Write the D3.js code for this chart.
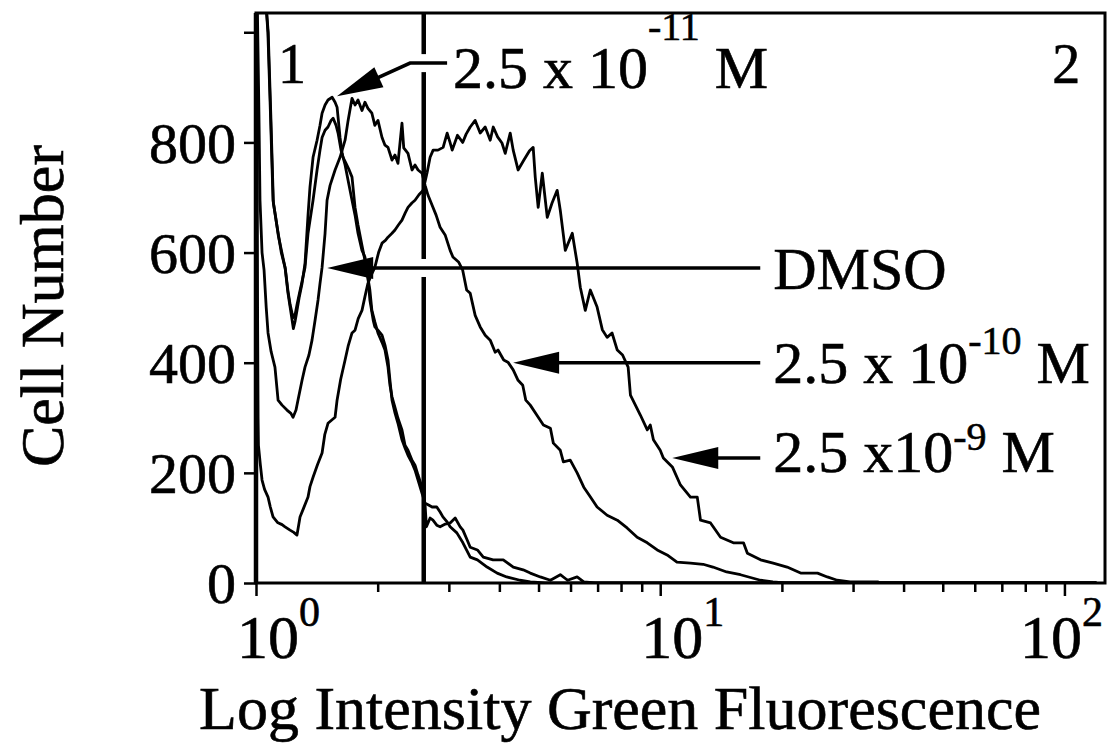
<!DOCTYPE html>
<html>
<head>
<meta charset="utf-8">
<script src="https://cdn.jsdelivr.net/npm/d3@7/dist/d3.min.js"></script>
<style>
  body { margin: 0; background: #fff; }
  svg text { font-family: "Liberation Serif", "Times New Roman", serif; fill: #000; stroke: #000; stroke-width: 0.6px; }
</style>
</head>
<body>
<svg id="chart"></svg>
<script>
// Histogram traces [fluorescence, cell number]
const dmso = [[1.00,1100],[1.05,1085],[1.072,1000],[1.088,850],[1.104,690],[1.12,662],[1.136,630],[1.155,605],[1.182,570],[1.20,530],[1.215,505],[1.228,490],[1.24,482],[1.25,488],[1.263,505],[1.28,525],[1.30,548],[1.322,573],[1.345,635],[1.384,695],[1.416,750],[1.44,786],[1.457,809],[1.482,822],[1.507,828],[1.534,840],[1.552,844],[1.578,831],[1.596,817],[1.623,786],[1.642,773],[1.67,762],[1.70,750],[1.728,737],[1.758,682],[1.788,650],[1.829,613],[1.87,577],[1.913,532],[1.935,495],[1.968,474],[2.003,454],[2.05,437],[2.085,423],[2.121,392],[2.145,359],[2.17,338],[2.207,319],[2.245,299],[2.297,278],[2.337,250],[2.377,241],[2.432,223],[2.474,214],[2.517,196],[2.575,174],[2.62,142],[2.64,102],[2.696,118],[2.74,114],[2.80,105],[2.854,102],[2.94,107],[3.022,109],[3.11,118],[3.20,102],[3.25,96],[3.33,78],[3.388,65],[3.53,60],[3.65,47],[3.86,42],[4.09,42],[4.33,29],[4.58,24],[4.77,18],[5.05,11],[5.35,5],[5.66,15],[5.9,5],[6.23,11],[6.47,2],[6.9,0],[120,0]];

const conc11 = [[1.00,1100],[1.05,1090],[1.07,1000],[1.085,860],[1.102,695],[1.12,660],[1.134,636],[1.155,600],[1.18,573],[1.20,526],[1.215,500],[1.228,478],[1.237,462],[1.25,476],[1.263,495],[1.28,520],[1.30,544],[1.322,580],[1.345,668],[1.36,719],[1.384,773],[1.416,804],[1.44,831],[1.457,853],[1.482,868],[1.507,877],[1.543,882],[1.569,873],[1.587,864],[1.614,809],[1.633,780],[1.661,759],[1.69,731],[1.728,695],[1.758,668],[1.788,635],[1.829,604],[1.86,592],[1.892,555],[1.913,514],[1.95,477],[1.968,465],[2.003,459],[2.05,450],[2.085,432],[2.121,405],[2.145,368],[2.17,332],[2.207,309],[2.245,290],[2.297,260],[2.337,245],[2.377,232],[2.432,218],[2.474,205],[2.517,187],[2.575,163],[2.62,145],[2.665,142],[2.727,138],[2.80,138],[2.854,129],[2.90,120],[2.97,111],[3.022,102],[3.14,91],[3.25,73],[3.388,47],[3.53,42],[3.73,29],[3.95,18],[4.17,11],[4.5,5],[4.77,2],[5.2,0],[120,0]];

const conc10 = [[1.00,1100],[1.008,1040],[1.017,850],[1.023,695],[1.035,600],[1.047,568],[1.06,500],[1.071,454],[1.09,420],[1.114,392],[1.134,332],[1.16,323],[1.193,314],[1.22,308],[1.235,301],[1.256,314],[1.27,332],[1.30,368],[1.322,392],[1.352,414],[1.376,441],[1.40,477],[1.424,514],[1.44,544],[1.457,573],[1.482,635],[1.499,695],[1.525,722],[1.569,750],[1.614,773],[1.661,804],[1.69,840],[1.728,880],[1.758,868],[1.788,877],[1.829,858],[1.86,873],[1.892,862],[1.935,853],[1.968,831],[2.003,840],[2.05,809],[2.085,795],[2.121,791],[2.17,768],[2.207,777],[2.245,762],[2.297,835],[2.32,790],[2.377,780],[2.432,750],[2.474,759],[2.517,750],[2.575,744],[2.62,722],[2.665,704],[2.727,686],[2.79,668],[2.854,646],[2.937,632],[3.022,604],[3.07,592],[3.17,583],[3.246,568],[3.32,532],[3.388,526],[3.485,486],[3.586,465],[3.69,450],[3.797,441],[3.906,419],[3.97,423],[4.10,405],[4.20,401],[4.328,387],[4.45,368],[4.57,359],[4.65,332],[4.77,323],[4.95,305],[5.14,287],[5.35,281],[5.44,254],[5.66,241],[5.76,220],[5.99,223],[6.23,200],[6.47,174],[6.72,156],[6.98,138],[7.39,123],[7.83,114],[8.28,100],[8.77,83],[9.29,73],[9.83,60],[10.4,51],[11.0,38],[11.88,36],[12.77,34],[13.5,29],[14.6,20],[15.8,15],[17.7,5],[19.0,2],[20.3,0],[120,0]];

const conc9 = [[1.00,1100],[1.005,900],[1.009,500],[1.012,300],[1.014,250],[1.025,215],[1.035,187],[1.05,170],[1.071,156],[1.085,138],[1.102,120],[1.13,110],[1.16,106],[1.18,102],[1.214,96],[1.24,92],[1.263,87],[1.275,105],[1.285,120],[1.31,135],[1.345,156],[1.36,175],[1.384,192],[1.42,215],[1.457,236],[1.48,270],[1.507,290],[1.54,296],[1.569,301],[1.587,332],[1.62,370],[1.661,405],[1.69,430],[1.728,454],[1.758,459],[1.79,480],[1.829,495],[1.86,520],[1.892,544],[1.93,560],[1.968,573],[2.01,600],[2.05,617],[2.09,622],[2.121,628],[2.17,635],[2.207,641],[2.25,650],[2.297,659],[2.34,672],[2.377,682],[2.43,690],[2.474,695],[2.53,705],[2.59,713],[2.65,745],[2.696,773],[2.743,786],[2.82,786],[2.904,791],[2.971,817],[3.02,800],[3.058,786],[3.151,813],[3.246,800],[3.31,815],[3.388,828],[3.485,840],[3.586,817],[3.69,828],[3.797,804],[3.863,828],[3.96,810],[4.06,799],[4.136,780],[4.255,817],[4.328,786],[4.45,750],[4.6,768],[4.75,785],[4.85,791],[4.907,737],[4.99,682],[5.108,744],[5.255,664],[5.40,690],[5.56,713],[5.659,677],[5.823,604],[6.06,635],[6.23,581],[6.343,537],[6.526,495],[6.715,532],[6.98,501],[7.19,460],[7.39,446],[7.6,454],[7.83,423],[8.07,414],[8.33,392],[8.44,341],[8.93,305],[9.29,278],[9.45,287],[9.62,260],[10.0,241],[10.18,227],[10.73,210],[11.22,178],[11.88,156],[12.35,156],[12.58,114],[13.32,109],[14.10,83],[15.17,73],[16.07,73],[16.43,54],[17.71,42],[19.03,36],[20.6,29],[22.25,18],[24.5,18],[25.9,11],[27.4,5],[29.5,2],[34.5,2],[35,0],[120,0]];

const series = [dmso, conc11, conc10, conc9];

// Axis ticks and labels
const xMajor = [1, 10, 100];
const xMajorExp = ["0", "1", "2"];
const xMinor = [2, 3, 4, 5, 6, 7, 8, 9, 20, 30, 40, 50, 60, 70, 80, 90];
const yTicks = [0, 200, 400, 600, 800, 1000];
const yLabels = ["0", "200", "400", "600", "800", ""];

// Gate between region 1 and region 2
const gateX = 2.6;

// Arrow annotations (data coordinates)
const notes = [
  {text: "2.5 x 10", sup: "-11", after: " M", supDy: -48, tip: [1.586, 884], path: [[2.97, 944], [2.405, 944]], at: [3.07, 899]},
  {text: "DMSO", sup: "", after: "", supDy: 0, tip: [1.50, 572], path: [[17.68, 572]], at: [19.04, 534]},
  {text: "2.5 x 10", sup: "-10", after: " M", supDy: -29, tip: [4.326, 400], path: [[17.68, 400]], at: [19.04, 363]},
  {text: "2.5 x10", sup: "-9", after: " M", supDy: -22, tip: [10.71, 227], path: [[17.68, 227]], at: [19.04, 202]}
];
const regions = [{label: "1", x: 1.134, anchor: "start"}, {label: "2", x: 109.5, anchor: "end"}];

// Set up dimensions
const width = 1119, height = 747;
const margin = {top: 13, right: 14, bottom: 164, left: 256};

const svg = d3.select("#chart")
    .attr("width", width)
    .attr("height", height);

const x = d3.scaleLog()
    .domain([1, 126])
    .range([margin.left, width - margin.right]);

const y = d3.scaleLinear()
    .domain([0, 1035])
    .range([height - margin.bottom, margin.top]);

svg.append("defs").append("clipPath")
    .attr("id", "plot-clip")
  .append("rect")
    .attr("x", margin.left)
    .attr("y", margin.top)
    .attr("width", x.range()[1] - margin.left)
    .attr("height", y(0) - margin.top);

// Histogram lines
const line = d3.line()
    .x(d => x(d[0]))
    .y(d => y(d[1]));

svg.append("g")
    .attr("clip-path", "url(#plot-clip)")
  .selectAll("path")
  .data(series)
  .enter()
  .append("path")
    .attr("d", line)
    .attr("fill", "none")
    .attr("stroke", "#000")
    .attr("stroke-width", 2.8)
    .attr("stroke-linejoin", "round");

// Gate line with small breaks where the arrows cross it
svg.append("line")
    .attr("x1", x(gateX)).attr("x2", x(gateX))
    .attr("y1", y.range()[1]).attr("y2", y(0))
    .attr("stroke", "#000")
    .attr("stroke-width", 4.5);

[notes[0].path[0][1], notes[1].tip[1]].forEach(v => {
  svg.append("rect")
      .attr("x", x(gateX) - 4)
      .attr("y", y(v) - 9)
      .attr("width", 8)
      .attr("height", 18)
      .attr("fill", "#fff");
});

// Arrows
notes.forEach(n => {
  const pts = n.path.map(p => [x(p[0]), y(p[1])]);
  const tip = [x(n.tip[0]), y(n.tip[1])];
  const last = pts[pts.length - 1];
  const dx = tip[0] - last[0], dy = tip[1] - last[1];
  const len = Math.hypot(dx, dy);
  const ux = dx / len, uy = dy / len;
  const headLen = 46, headW = 11;
  const bx = tip[0] - ux * headLen, by = tip[1] - uy * headLen;

  svg.append("path")
      .attr("d", d3.line()(pts.concat([[bx + ux * 4, by + uy * 4]])))
      .attr("fill", "none")
      .attr("stroke", "#000")
      .attr("stroke-width", 3.5);

  svg.append("path")
      .attr("d", d3.line()([tip, [bx - uy * headW, by + ux * headW], [bx + uy * headW, by - ux * headW]]) + "Z")
      .attr("fill", "#000");

  const t = svg.append("text")
      .attr("x", x(n.at[0]))
      .attr("y", y(n.at[1]))
      .style("font-size", "60px")
      .text(n.text);
  if (n.sup) {
    t.append("tspan")
        .attr("dy", n.supDy)
        .style("font-size", "40px")
        .text(n.sup);
    t.append("tspan")
        .attr("dy", -n.supDy)
        .text(n.after);
  }
});

// Region numbers
svg.selectAll(".region")
  .data(regions)
  .enter()
  .append("text")
    .attr("class", "region")
    .attr("x", d => x(d.x))
    .attr("y", y(908))
    .attr("text-anchor", d => d.anchor)
    .style("font-size", "56px")
    .text(d => d.label);

// Frame
svg.append("rect")
    .attr("x", margin.left)
    .attr("y", margin.top)
    .attr("width", x.range()[1] - margin.left)
    .attr("height", y(0) - margin.top)
    .attr("fill", "none")
    .attr("stroke", "#000")
    .attr("stroke-width", 3);

svg.append("line")
    .attr("x1", margin.left).attr("x2", margin.left)
    .attr("y1", margin.top).attr("y2", y(0))
    .attr("stroke", "#000")
    .attr("stroke-width", 4.5);

// X axis ticks
const xAxisMinor = svg.append("g")
    .attr("transform", `translate(0,${y(0)})`)
    .call(d3.axisBottom(x).tickValues(xMinor).tickSize(9).tickFormat(""));
const xAxisMajor = svg.append("g")
    .attr("transform", `translate(0,${y(0)})`)
    .call(d3.axisBottom(x).tickValues(xMajor).tickSize(13).tickFormat(""));
[xAxisMinor, xAxisMajor].forEach(g => {
  g.select(".domain").remove();
  g.selectAll("line").attr("stroke-width", 2.5);
});

// X tick labels 10^n, kept inside the page at the right edge
svg.selectAll(".xlab")
  .data(xMajor)
  .enter()
  .append("text")
    .attr("class", "xlab")
    .attr("x", d => x(d) - 19)
    .attr("y", 658)
    .style("font-size", "62px")
    .text("10")
  .append("tspan")
    .attr("dy", -32)
    .style("font-size", "42px")
    .text((d, i) => xMajorExp[i]);

svg.selectAll(".xlab").each(function() {
  const box = this.getBBox();
  if (box.x + box.width > width - 16) {
    d3.select(this).attr("x", width - 16 - box.width);
  }
});

// Y axis
const yAxis = svg.append("g")
    .attr("transform", `translate(${margin.left},0)`)
    .call(d3.axisLeft(y).tickValues(yTicks).tickSize(12).tickPadding(8)
      .tickFormat((d, i) => yLabels[i]));
yAxis.select(".domain").remove();
yAxis.selectAll("line").attr("stroke-width", 2.5);
yAxis.selectAll("text")
    .attr("fill", "#000")
    .style("font-size", "58px")
    .style("font-family", "Liberation Serif, serif")
    .attr("dy", "0.34em");

// Axis titles
svg.append("text")
    .attr("x", 620)
    .attr("y", 729)
    .attr("text-anchor", "middle")
    .style("font-size", "62px")
    .text("Log Intensity Green Fluorescence");

svg.append("text")
    .attr("transform", "rotate(-90)")
    .attr("x", -(margin.top + y(0)) / 2 - 8)
    .attr("y", 63)
    .attr("text-anchor", "middle")
    .style("font-size", "62px")
    .text("Cell Number");
</script>
</body>
</html>
